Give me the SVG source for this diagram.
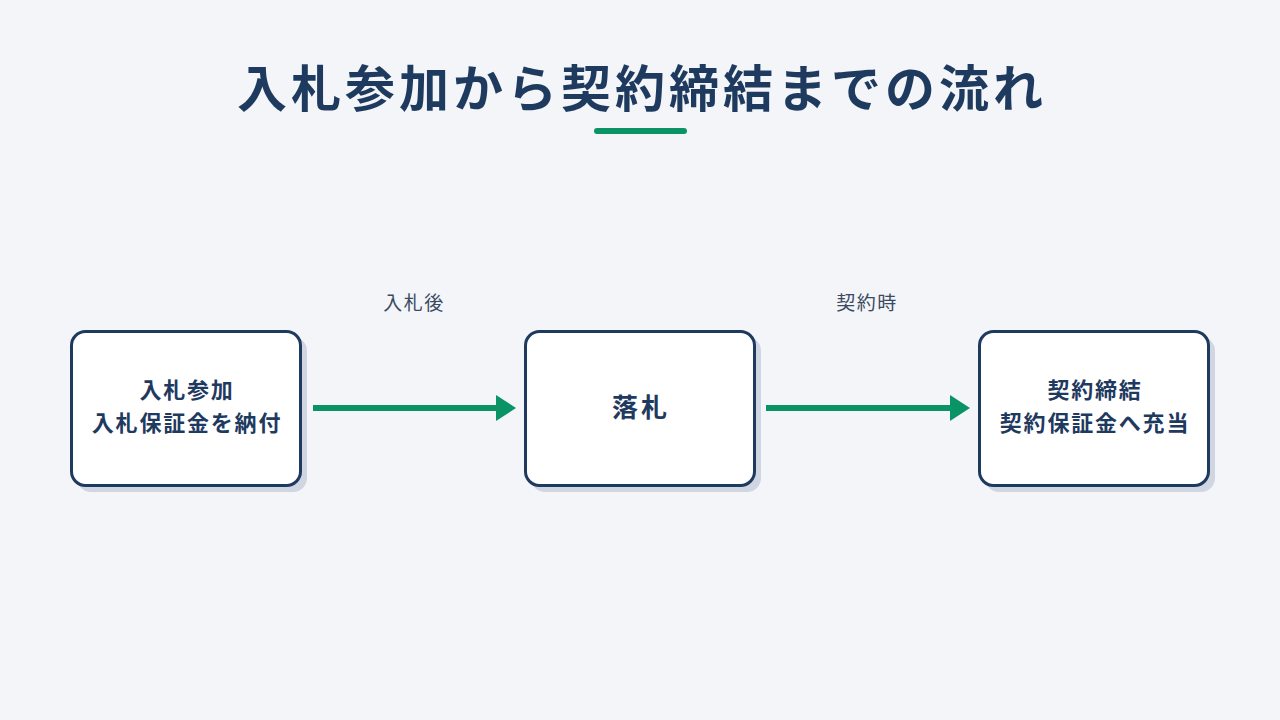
<svg xmlns="http://www.w3.org/2000/svg" width="1280" height="720" viewBox="0 0 1280 720">
<defs>
<style>
.t{font-family:"Noto Sans CJK JP","Noto Sans",sans-serif;fill:#1f3a5f;}
.title{font-size:50px;font-weight:700;letter-spacing:4px;}
.nt{font-size:22px;font-weight:700;letter-spacing:1.8px;}
.lab{font-size:19px;fill:#3b4a62;letter-spacing:1.5px;}
.box{fill:#ffffff;stroke:#1f3a5f;stroke-width:3;}
.shadow{fill:#cfd6e2;}
.conn{stroke:#0a9466;stroke-width:6;fill:none;}
</style>
<marker id="ah" markerWidth="20" markerHeight="26" refX="0" refY="13" orient="auto" markerUnits="userSpaceOnUse">
<polygon points="0,0 20,13 0,26" fill="#0a9466"/>
</marker>
</defs>
<rect width="1280" height="720" fill="#f3f5f8"/>
<g id="title">
<text class="t title" x="642" y="107" text-anchor="middle">入札参加から契約締結までの流れ</text>
<line x1="597" y1="131" x2="684" y2="131" stroke="#0a9466" stroke-width="6" stroke-linecap="round"/>
</g>
<g id="connectors">
<line class="conn" x1="313" y1="408" x2="496" y2="408" marker-end="url(#ah)"/>
<line class="conn" x1="766" y1="408" x2="950" y2="408" marker-end="url(#ah)"/>
<text class="t lab" x="414" y="310" text-anchor="middle">入札後</text>
<text class="t lab" x="867" y="310" text-anchor="middle">契約時</text>
</g>
<g id="node1">
<rect class="shadow" x="77" y="337" width="230" height="155" rx="14"/>
<rect class="box" x="71.5" y="331.5" width="229" height="154" rx="14"/>
<text class="t nt" x="187" y="398" text-anchor="middle">入札参加</text>
<text class="t nt" x="187" y="431" text-anchor="middle">入札保証金を納付</text>
</g>
<g id="node2">
<rect class="shadow" x="531" y="337" width="230" height="155" rx="14"/>
<rect class="box" x="525.5" y="331.5" width="229" height="154" rx="14"/>
<text class="t nt" x="641" y="417" text-anchor="middle" style="font-size:26px;letter-spacing:3px">落札</text>
</g>
<g id="node3">
<rect class="shadow" x="985" y="337" width="230" height="155" rx="14"/>
<rect class="box" x="979.5" y="331.5" width="229" height="154" rx="14"/>
<text class="t nt" x="1095" y="398" text-anchor="middle">契約締結</text>
<text class="t nt" x="1095" y="431" text-anchor="middle">契約保証金へ充当</text>
</g>
</svg>
